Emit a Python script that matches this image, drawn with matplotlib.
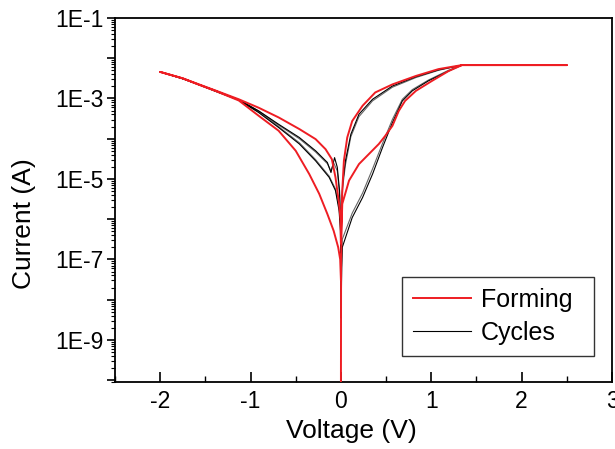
import numpy as np
import matplotlib
matplotlib.use("Agg")
import matplotlib.pyplot as plt
from matplotlib.ticker import LogLocator, FuncFormatter, MultipleLocator, NullFormatter

plt.rcParams['font.family'] = ['Liberation Sans', 'DejaVu Sans']

# ---- data (voltage in V, current as log10(A)) ----
forming_v = [0.0, 0.002, 0.006, 0.015, 0.09, 0.2, 0.31, 0.42, 0.49, 0.57, 0.64, 0.71, 0.83, 1.01, 1.19, 1.34, 2.5,
             1.34, 1.08, 0.83, 0.57, 0.38, 0.24, 0.125, 0.07, 0.033, 0.015, 0.005, 0.0,
             -0.005, -0.02, -0.06, -0.1, -0.17, -0.28, -0.46, -0.69, -0.91, -1.13, -1.39, -1.57, -1.75, -2.0,
             -1.75, -1.57, -1.39, -1.13, -0.91, -0.69, -0.5, -0.35, -0.24, -0.15, -0.08, -0.03, -0.008, 0.0]
forming_log_i = [-10.5, -7.2, -6.3, -5.62, -5.04, -4.63, -4.38, -4.13, -3.93, -3.68, -3.31, -3.06, -2.81, -2.56, -2.32, -2.17, -2.17,
                 -2.17, -2.27, -2.44, -2.65, -2.85, -3.18, -3.56, -3.97, -4.55, -5.3, -6.0, -6.6,
                 -6.0, -5.62, -4.96, -4.51, -4.26, -4.01, -3.76, -3.47, -3.23, -3.02, -2.80, -2.65, -2.50, -2.34,
                 -2.50, -2.66, -2.81, -3.05, -3.43, -3.80, -4.3, -4.88, -5.37, -5.87, -6.29, -6.70, -7.0, -7.5]

cycle1_v = [0.003, 0.008, 0.015, 0.125, 0.24, 0.35, 0.46, 0.57, 0.68, 0.79, 0.97, 1.19, 1.34,
            1.08, 0.83, 0.57, 0.35, 0.2, 0.11, 0.05, 0.02, 0.005, 0.0,
            -0.005, -0.015, -0.04, -0.07, -0.11, -0.15, -0.28, -0.46, -0.69, -0.91, -1.13, -1.39, -1.57, -1.75, -2.0,
            -1.75, -1.57, -1.39, -1.13, -0.91, -0.69, -0.46, -0.28, -0.13, -0.06, -0.02, -0.005, 0.003]
cycle1_log_i = [-8.45, -7.2, -6.70, -5.96, -5.46, -4.88, -4.22, -3.60, -3.06, -2.81, -2.56, -2.32, -2.17,
                -2.29, -2.46, -2.69, -3.02, -3.39, -3.89, -4.55, -5.1, -5.8, -6.2,
                -6.0, -5.29, -4.71, -4.47, -4.84, -4.59, -4.30, -3.97, -3.64, -3.31, -3.03, -2.81, -2.66, -2.51, -2.34,
                -2.51, -2.66, -2.82, -3.04, -3.35, -3.72, -4.13, -4.55, -4.96, -5.29, -5.79, -6.29, -8.45]

cycle2_v = [0.004, 0.015, 0.125, 0.24, 0.35, 0.46, 0.57, 0.68, 0.79, 0.97, 1.19, 1.34,
            1.08, 0.83, 0.57, 0.35, 0.2, 0.11, 0.05, 0.02, 0.005, 0.0,
            -0.005, -0.02, -0.06, -0.13, -0.28, -0.46, -0.69, -0.91, -1.13, -1.39, -1.57, -1.75, -2.0,
            -1.75, -1.57, -1.39, -1.13, -0.91, -0.69, -0.46, -0.28, -0.15, -0.11, -0.08, -0.04, -0.015, -0.005, 0.004]
cycle2_log_i = [-7.8, -6.5, -5.85, -5.35, -4.75, -4.12, -3.52, -3.02, -2.78, -2.54, -2.30, -2.17,
                -2.30, -2.48, -2.72, -3.06, -3.45, -3.95, -4.65, -5.2, -5.9, -6.3,
                -6.1, -5.7, -5.25, -4.93, -4.52, -4.10, -3.70, -3.33, -3.04, -2.82, -2.66, -2.51, -2.34,
                -2.51, -2.66, -2.81, -3.03, -3.31, -3.66, -4.0, -4.33, -4.62, -4.80, -4.6, -4.8, -5.4, -6.2, -7.8]

legend_labels = ["Forming", "Cycles"]

# ---- figure ----
fig = plt.figure(figsize=(6.15, 4.49), dpi=100)
ax = fig.add_axes([115/615, 1-382/449, (612-115)/615, (382-18)/449])

l2, = ax.plot(cycle2_v, 10**np.array(cycle2_log_i), color='#666666', lw=0.8, zorder=2)
l1, = ax.plot(cycle1_v, 10**np.array(cycle1_log_i), color='black', lw=0.8, zorder=2)
lf, = ax.plot(forming_v, 10**np.array(forming_log_i), color='#ee1d23', lw=1.4, zorder=3)

ax.set_yscale('log')
ax.set_xlim(-2.5, 3)
ax.set_ylim(9e-11, 1e-1)

ax.xaxis.set_major_locator(MultipleLocator(1))
ax.xaxis.set_minor_locator(MultipleLocator(0.5))
ax.xaxis.set_major_formatter(FuncFormatter(lambda v, p: f"{int(round(v))}"))

ax.yaxis.set_major_locator(LogLocator(base=10, numticks=20))
ax.yaxis.set_minor_locator(LogLocator(base=10, subs=np.arange(2, 10), numticks=20))
def yfmt(v, p):
    e = int(round(np.log10(v)))
    return f"1E{e}" if e % 2 != 0 else ""
ax.yaxis.set_major_formatter(FuncFormatter(yfmt))
ax.yaxis.set_minor_formatter(NullFormatter())

ax.tick_params(axis='x', which='major', direction='in', length=7, width=1.2, labelsize=16.5, pad=6)
ax.tick_params(axis='x', which='minor', direction='in', length=4, width=1.0)
ax.tick_params(axis='y', which='major', direction='out', length=6, width=1.2, labelsize=16.5, pad=2)
ax.tick_params(axis='y', which='minor', direction='out', length=3, width=0.8)
ax.tick_params(top=False, right=False, which='both')

for s in ax.spines.values():
    s.set_linewidth(1.3)

ax.set_xlabel("Voltage (V)", fontsize=19)
ax.set_ylabel("Current (A)", fontsize=19)
ax.xaxis.set_label_coords((351-115)/497, -(419-382)/364)
ax.yaxis.set_label_coords((36-115)/497, 1-(224-18)/364)

leg = ax.legend([lf, l1], legend_labels, loc='lower left',
                bbox_to_anchor=((402-115)/497, (382-356)/364, (594-402)/497, (356-276)/364),
                mode='expand', fontsize=18, frameon=True, fancybox=False,
                edgecolor='black', handlelength=2.3, handletextpad=0.4,
                borderaxespad=0, borderpad=0.45, labelspacing=0.35)
leg.get_frame().set_linewidth(1.0)

fig.savefig("out.png", dpi=100)
